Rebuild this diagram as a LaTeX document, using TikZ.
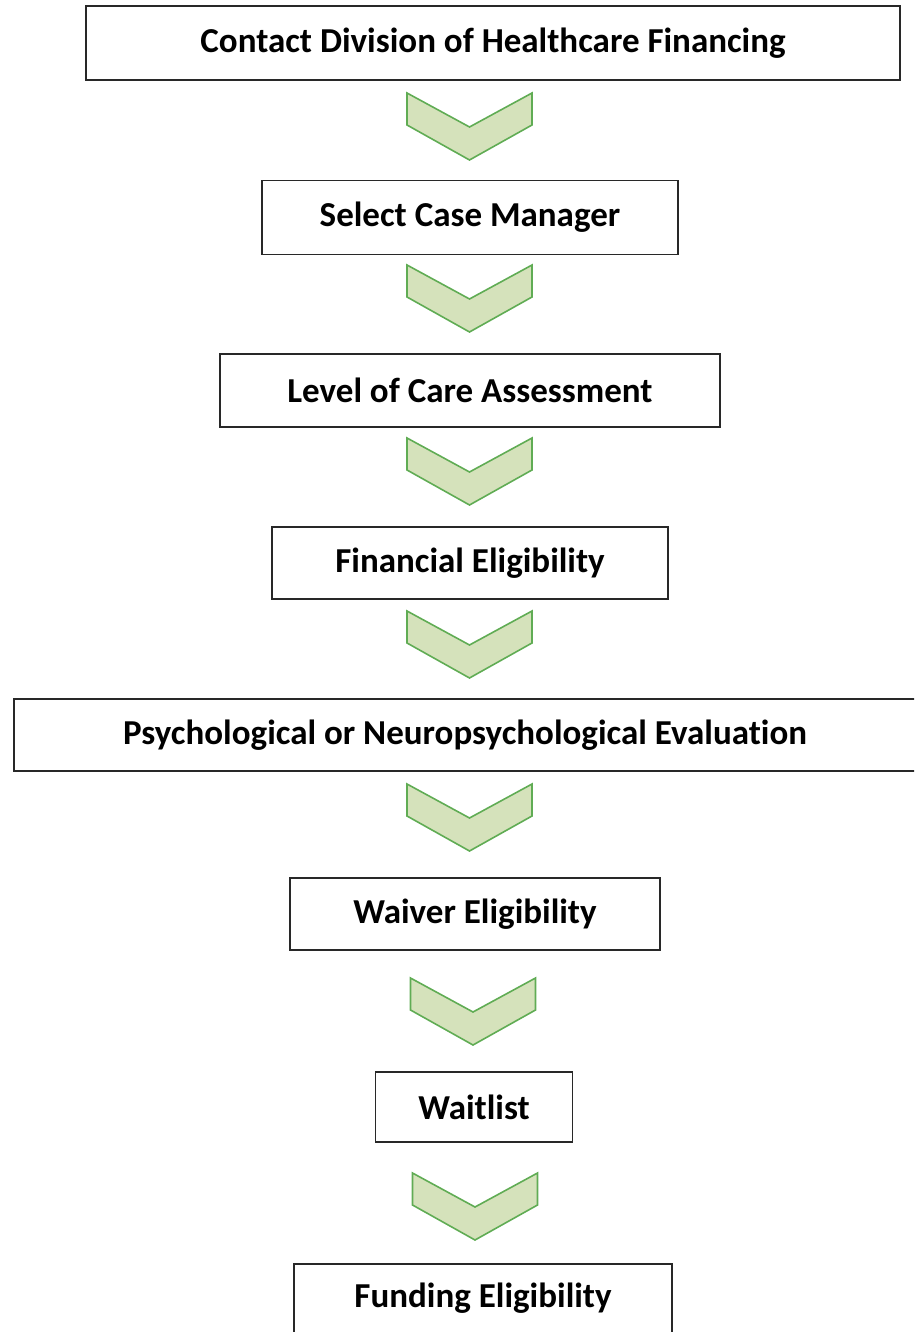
\documentclass[tikz,border=0pt]{standalone}
\usepackage{fontspec}
\setmainfont{Carlito}[RawFeature={-liga;-dlig;-clig}]
\definecolor{chevfill}{RGB}{213,226,187}
\definecolor{chevline}{RGB}{96,172,84}
\definecolor{boxline}{RGB}{40,40,40}
\begin{document}
\begin{tikzpicture}[x=1pt,y=-1pt,
  stepbox/.style={draw=boxline,line width=1.5pt,fill=white,inner sep=0pt,
    font=\fontsize{35}{40}\selectfont\bfseries},
  chevron/.pic={\draw[draw=chevline,fill=chevfill,line width=1.6pt,line join=miter]
    (-62.5,0) -- (0,34) -- (62.5,0) -- (62.5,32) -- (0,67) -- (-62.5,32) -- cycle;}]
\useasboundingbox (0,0) rectangle (914,1332);
\clip (0,0) rectangle (914,1332);
\node[stepbox,minimum width=814pt,minimum height=74pt] (b1) at (493,43) {Contact Division of Healthcare Financing};
\node[stepbox,minimum width=416pt,minimum height=74pt] (b2) at (470,217.5) {Select Case Manager};
\node[stepbox,minimum width=500pt,minimum height=73pt] (b3) at (470,390.5) {Level of Care Assessment};
\node[stepbox,minimum width=396pt,minimum height=72pt] (b4) at (470,563) {Financial Eligibility};
\node[stepbox,minimum width=902pt,minimum height=72pt] (b5) at (465,735) {Psychological or Neuropsychological Evaluat\kern0pt ion};
\node[stepbox,minimum width=370pt,minimum height=72pt] (b6) at (475,914) {Waiver Eligibility};
\node[stepbox,minimum width=197pt,minimum height=70pt] (b7) at (474,1107) {Waitlist};
\draw[draw=boxline,line width=1.5pt] (294,1264) rectangle (672,1350);
\node[stepbox,draw=none,fill=none] (b8) at (483,1298) {Funding Eligibility};
\pic at (469.5,93) {chevron};
\pic at (469.5,265) {chevron};
\pic at (469.5,438) {chevron};
\pic at (469.5,611) {chevron};
\pic at (469.5,784) {chevron};
\pic at (473,978) {chevron};
\pic at (475,1173) {chevron};
\end{tikzpicture}
\end{document}
